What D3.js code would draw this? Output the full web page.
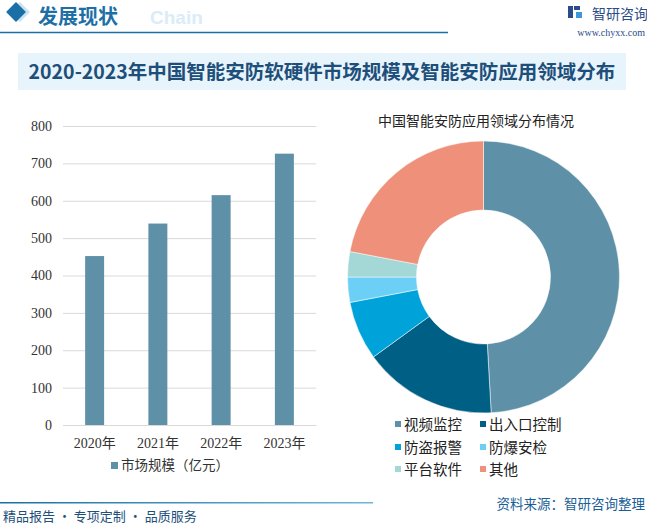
<!DOCTYPE html>
<html><head><meta charset="utf-8">
<script src="https://cdn.jsdelivr.net/npm/d3@7"></script>
<style>
body{margin:0;background:#fff;}
svg{display:block;font-family:"Noto Sans CJK SC",sans-serif;}
</style></head>
<body><svg id="c" width="647" height="524"></svg>
<script>
const years = ["2020年","2021年","2022年","2023年"];
const marketSize = [452, 539, 615, 726];
const yTicks = [0,100,200,300,400,500,600,700,800];
const barSeriesName = "市场规模（亿元）";
const fields = ["视频监控","出入口控制","防盗报警","防爆安检","平台软件","其他"];
const fieldShares = [49.1, 15.9, 7.0, 3.0, 3.0, 22.0];
const fieldColors = ["#5e91a8","#005f84","#00a3d9","#6ccff6","#a3d8d6","#ef917a"];

const svg = d3.select("#c");

// header
svg.append("rect").attr("x",13).attr("y",5).attr("width",14).attr("height",14)
  .attr("transform","rotate(45,20,12)").attr("fill","#c9e3f2");
svg.append("rect").attr("x",9).attr("y",5).attr("width",14).attr("height",14)
  .attr("transform","rotate(45,16,12)").attr("fill","#1a6fa6");
svg.append("text").attr("x",150).attr("y",24).attr("font-family","Liberation Sans,Arial").attr("font-weight","bold")
  .attr("font-size",19).attr("fill","#d9ecf8").text("Chain");
svg.append("text").attr("x",38).attr("y",24).attr("font-size",20).attr("font-weight","bold")
  .attr("fill","#1d6fa5").text("发展现状");
svg.append("line").attr("x1",0).attr("x2",448).attr("y1",32.5).attr("y2",32.5).attr("stroke","#1a6fa6").attr("stroke-width",1.5);
// logo
const lg = svg.append("g");
lg.append("rect").attr("x",568).attr("y",6).attr("width",5).attr("height",12).attr("fill","#2b4c8c");
lg.append("rect").attr("x",574).attr("y",6).attr("width",6).attr("height",4).attr("fill","#2b4c8c");
lg.append("rect").attr("x",576).attr("y",12).attr("width",6).attr("height",6).attr("fill","#3a9ad9");
svg.append("text").attr("x",592).attr("y",19).attr("font-size",14).attr("fill","#2b4c8c").text("智研咨询");
svg.append("text").attr("x",645).attr("y",36).attr("text-anchor","end").attr("font-size",10)
  .attr("font-family","Liberation Serif,serif").attr("fill","#2b4c8c").text("www.chyxx.com");

// title box
svg.append("rect").attr("x",18).attr("y",53).attr("width",608).attr("height",37).attr("fill","#e8f4fb");
svg.append("text").attr("x",322).attr("y",79).attr("text-anchor","middle").attr("font-size",19.5)
  .attr("font-weight","bold").attr("fill","#1d4f7a").text("2020-2023年中国智能安防软硬件市场规模及智能安防应用领域分布");

// bar chart
const x = d3.scaleBand().domain(years).range([63,316]).paddingInner(0.7).paddingOuter(0.35);
const y = d3.scaleLinear().domain([0,800]).range([425,126]);
const gy = svg.append("g").attr("transform","translate(63,0)")
  .call(d3.axisLeft(y).tickValues(yTicks).tickSize(-253).tickPadding(11));
gy.select(".domain").remove();
gy.selectAll(".tick line").attr("stroke","#d9d9d9");
gy.selectAll(".tick text").attr("font-size",14).attr("fill","#333").attr("font-family","Liberation Serif,serif");
svg.append("g").selectAll("rect").data(marketSize).join("rect")
  .attr("x",(d,i)=>x(years[i])).attr("width",x.bandwidth())
  .attr("y",d=>y(d)).attr("height",d=>y(0)-y(d)).attr("fill","#5e91a8");
const gx = svg.append("g").attr("transform","translate(0,425)").call(d3.axisBottom(x).tickSize(0).tickPadding(13));
gx.select(".domain").attr("stroke","#d9d9d9");
gx.selectAll(".tick text").attr("font-size",14).attr("fill","#333").attr("font-family","Liberation Serif,Noto Sans CJK SC");
svg.append("rect").attr("x",111).attr("y",462).attr("width",7).attr("height",7).attr("fill","#5e91a8");
svg.append("text").attr("x",121).attr("y",470).attr("font-size",13.5).attr("fill","#333").text(barSeriesName);

// donut
svg.append("text").attr("x",476).attr("y",126).attr("text-anchor","middle").attr("font-size",14).attr("fill","#222")
  .text("中国智能安防应用领域分布情况");
const pie = d3.pie().sort(null).value(d=>d)(fieldShares);
const arc = d3.arc().innerRadius(67).outerRadius(136);
svg.append("g").attr("transform","translate(483.5,277)").selectAll("path").data(pie).join("path")
  .attr("d",arc).attr("fill",(d,i)=>fieldColors[i]).attr("stroke","#fff").attr("stroke-width",0.5);
// legend
const lgX = [395,480], lgY=[425,448,470];
fields.forEach((f,i)=>{
  const cx = lgX[i%2], cy = lgY[Math.floor(i/2)];
  svg.append("rect").attr("x",cx).attr("y",cy-4).attr("width",6).attr("height",6).attr("fill",fieldColors[i]);
  svg.append("text").attr("x",cx+9).attr("y",cy+5).attr("font-size",14.5).attr("fill","#222").text(f);
});

// footer
const grad = svg.append("defs").append("linearGradient").attr("id","fg");
grad.append("stop").attr("offset","0%").attr("stop-color","#1a6fa6");
grad.append("stop").attr("offset","100%").attr("stop-color","#6fb4de");
svg.append("rect").attr("x",0).attr("y",502).attr("width",373).attr("height",1.5).attr("fill","url(#fg)");
svg.append("text").attr("x",645).attr("y",509).attr("text-anchor","end").attr("font-size",13.5).attr("fill","#1a5f96")
  .text("资料来源：智研咨询整理");
svg.append("text").attr("x",3).attr("y",521).attr("font-size",13).attr("fill","#1d4f7a").text("精品报告 · 专项定制 · 品质服务");
</script></body></html>
